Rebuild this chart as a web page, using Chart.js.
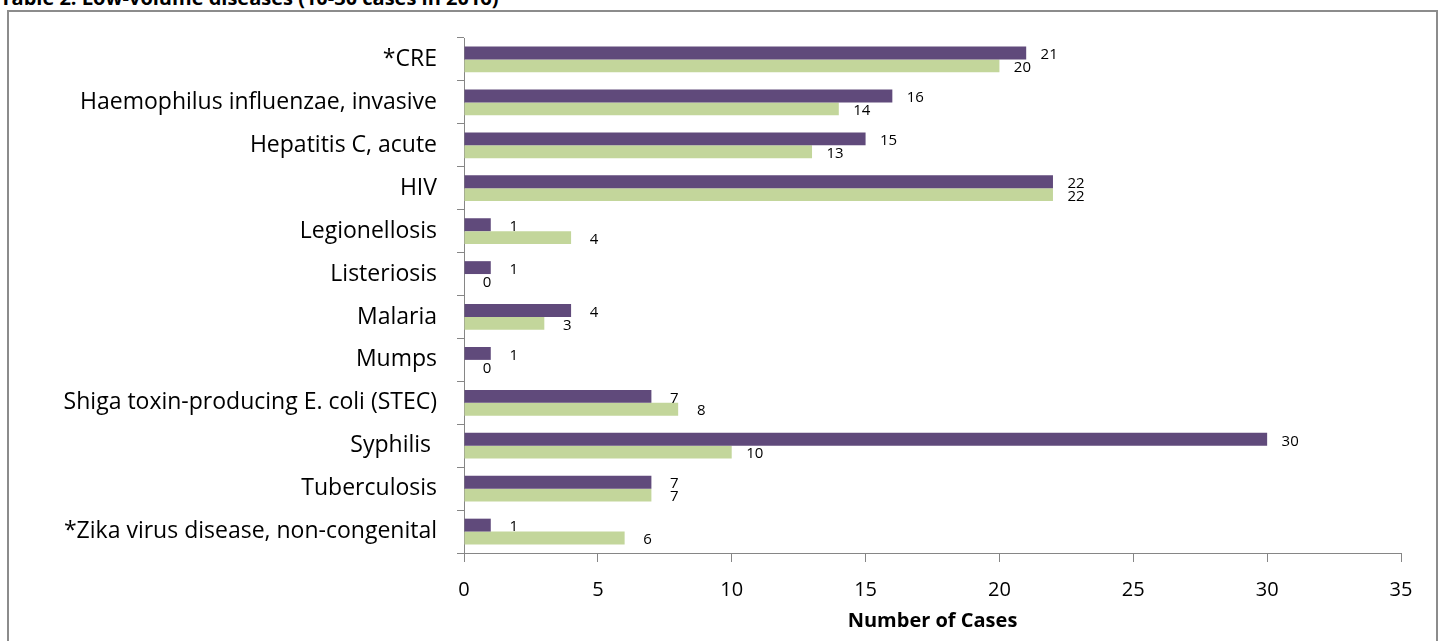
<!DOCTYPE html>
<html>
<head>
<meta charset="utf-8">
<script src="https://cdn.jsdelivr.net/npm/chart.js@4/dist/chart.umd.min.js"></script>
<style>
  body { margin: 0; background: #fff; overflow: hidden; }
  #title { position: absolute; left: 0; top: -16px; font: bold 20px "Open Sans", sans-serif; color: #000; white-space: nowrap; }
  #frame { position: absolute; left: 7px; top: 10px; width: 1427px; height: 640px; border: 2px solid #8c8c8c; }
  canvas { display: block; }
</style>
</head>
<body>
<div id="title">Table 2: Low-volume diseases (10-30 cases in 2016)</div>
<div id="frame"><canvas id="chart" width="1427" height="629"></canvas></div>
<script>
const categories = [
  "*CRE",
  "Haemophilus influenzae, invasive",
  "Hepatitis C, acute",
  "HIV",
  "Legionellosis",
  "Listeriosis",
  "Malaria",
  "Mumps",
  "Shiga toxin-producing E. coli (STEC)",
  "Syphilis ",
  "Tuberculosis",
  "*Zika virus disease, non-congenital"
];
const cases2016 = [21, 16, 15, 22, 1, 1, 4, 1, 7, 30, 7, 1];
const cases2015 = [20, 14, 13, 22, 4, 0, 3, 0, 8, 10, 7, 6];
const xTicks = [0, 5, 10, 15, 20, 25, 30, 35];

const AXIS_GREY = "#868686";
const FONT = "'Open Sans', sans-serif";

const valueLabels = {
  id: "valueLabels",
  afterDatasetsDraw(chart) {
    const ctx = chart.ctx;
    ctx.save();
    ctx.font = "15px " + FONT;
    ctx.fillStyle = "#000";
    ctx.textAlign = "center";
    ctx.textBaseline = "middle";
    chart.data.datasets.forEach((ds, di) => {
      chart.getDatasetMeta(di).data.forEach((bar, i) => {
        ctx.fillText(String(ds.data[i]), bar.x + 23, bar.y + 2);
      });
    });
    ctx.restore();
  }
};

new Chart(document.getElementById("chart"), {
  type: "bar",
  data: {
    labels: categories,
    datasets: [
      { label: "2016", data: cases2016, backgroundColor: "#604a7b", categoryPercentage: 0.6, barPercentage: 1.0 },
      { label: "2015", data: cases2015, backgroundColor: "#c3d69b", categoryPercentage: 0.6, barPercentage: 1.0 }
    ]
  },
  options: {
    indexAxis: "y",
    responsive: false,
    animation: false,
    devicePixelRatio: 1,
    layout: { padding: { top: 26, right: 35, left: 0, bottom: 0 } },
    plugins: {
      legend: { display: false },
      tooltip: { enabled: false }
    },
    scales: {
      y: {
        afterFit(scale) {
          scale.width = 455;
          // tick padding would otherwise push the plot area down
          scale.paddingTop = 0;
          scale.paddingBottom = 0;
        },
        grid: { drawOnChartArea: false, tickLength: 7, color: AXIS_GREY, offset: true },
        border: { display: true, color: AXIS_GREY, width: 1 },
        ticks: { color: "#000", padding: 20, font: { family: FONT, size: 23 } }
      },
      x: {
        min: 0,
        max: 35,
        afterFit(scale) { scale.height = 88; },
        afterBuildTicks(scale) { scale.ticks = xTicks.map(v => ({ value: v })); },
        grid: { drawOnChartArea: false, tickLength: 9, color: AXIS_GREY },
        border: { display: true, color: AXIS_GREY, width: 1 },
        ticks: { color: "#000", padding: 16, font: { family: FONT, size: 20 } },
        title: {
          display: true,
          text: "Number of Cases",
          color: "#000",
          padding: { top: 4, bottom: 8 },
          font: { family: FONT, size: 20, weight: "bold" }
        }
      }
    }
  },
  plugins: [valueLabels]
});
</script>
</body>
</html>
